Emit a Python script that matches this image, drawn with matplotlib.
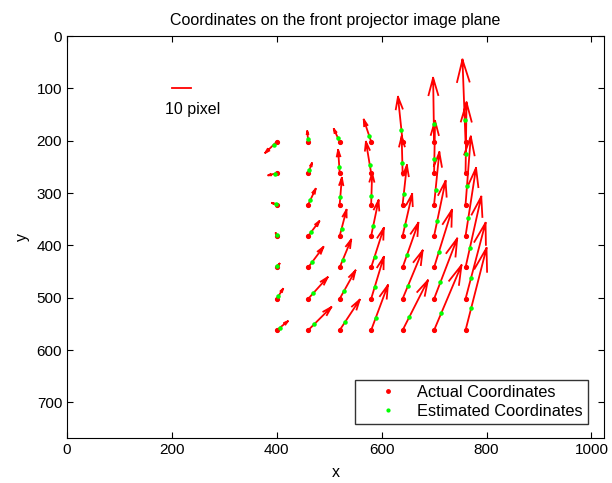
import numpy as np
import matplotlib.pyplot as plt

plt.rcParams['font.family'] = ['Liberation Sans', 'DejaVu Sans']

# grid of actual coordinates on the projector image plane
grid_x = [400, 460, 520, 580, 640, 700, 760]
grid_y = [202, 262, 322, 382, 442, 502, 562]

# estimation error (estimated - actual), pixels; one list per column, top row first
err_x = [
    [-5.9, -4.3, -2.4, -0.5, 1.4, 3.2, 5.7],
    [-0.5, 1.9, 3.8, 5.7, 7.8, 10.0, 11.9],
    [-3.0, -0.8, 1.1, 3.5, 5.9, 8.1, 10.3],
    [-3.8, -2.7, 0.5, 3.8, 6.5, 6.5, 8.6],
    [-2.4, -0.5, 2.2, 4.9, 8.1, 10.3, 13.0],
    [-0.5, 0.5, 2.7, 5.9, 9.2, 11.9, 14.1],
    [-1.6, 0.5, 2.7, 5.4, 8.1, 10.3, 10.8],
]
err_y = [
    [5.7, 1.1, -0.8, -1.4, -1.9, -5.1, -4.6],
    [-5.4, -5.1, -8.1, -7.6, -10.5, -11.1, -11.9],
    [-6.5, -11.9, -13.8, -13.5, -14.3, -14.6, -15.7],
    [-11.4, -16.2, -16.2, -18.4, -20.3, -21.6, -23.2],
    [-23.2, -18.9, -20.3, -21.6, -23.0, -24.9, -25.7],
    [-33.0, -27.0, -27.0, -28.4, -29.7, -31.1, -33.5],
    [-42.4, -36.5, -35.1, -35.1, -36.5, -39.2, -42.4],
]

arrow_scale = 3.7   # drawn length per pixel of error
ref_len = 10        # "10 pixel" reference arrow

X, Y = np.meshgrid(grid_x, grid_y, indexing='ij')
ex = np.array(err_x)
ey = np.array(err_y)
est_x = X + ex
est_y = Y + ey

fig = plt.figure(figsize=(6.12, 4.83), dpi=100)
ax = fig.add_axes([67 / 612, 45 / 483, 537 / 612, 402 / 483])


def arrow_lines(x0, y0, u, v, alpha=0.27, beta=0.28):
    # matlab style open arrow: shaft + two head strokes
    xs, ys = [], []
    for a, b, du, dv in zip(x0, y0, u, v):
        tx, ty = a + du, b + dv
        xs += [a, tx, np.nan]
        ys += [b, ty, np.nan]
        h1x = tx - alpha * (du + beta * dv)
        h1y = ty - alpha * (dv - beta * du)
        h2x = tx - alpha * (du - beta * dv)
        h2y = ty - alpha * (dv + beta * du)
        xs += [h1x, tx, h2x, np.nan]
        ys += [h1y, ty, h2y, np.nan]
    return xs, ys


ax_, ay_ = arrow_lines(X.ravel(), Y.ravel(), ex.ravel() * arrow_scale, ey.ravel() * arrow_scale)
ax.plot(ax_, ay_, color='red', lw=1.3, zorder=2)

ax.plot(X.ravel(), Y.ravel(), '.', color='red', ms=5.5, zorder=3, label='Actual Coordinates')
ax.plot(est_x.ravel(), est_y.ravel(), '.', color='#00ff00', ms=4.5, zorder=4, label='Estimated Coordinates')

# reference arrow
ax.plot([200, 200 + ref_len * arrow_scale], [100, 100], color='red', lw=1.3)
ax.text(186, 141, '10 pixel', fontsize=11.5, va='center', ha='left')

ax.set_xlim(0, 1024)
ax.set_ylim(768, 0)
ax.set_xticks(range(0, 1001, 200))
ax.set_yticks(range(0, 701, 100))
ax.tick_params(direction='in', top=True, right=True, length=4, labelsize=11)
ax.set_title('Coordinates on the front projector image plane', fontsize=11.5, pad=8)
ax.set_xlabel('x', fontsize=11.5, labelpad=6)
ax.set_ylabel('y', fontsize=11.5, labelpad=5)

leg = ax.legend(loc='lower right', bbox_to_anchor=(0.97, 0.035), fontsize=11.8, frameon=True,
                fancybox=False, edgecolor='black', markerscale=0.9, handlelength=3.4,
                handletextpad=0.1, borderpad=0.3, labelspacing=0.25, borderaxespad=0)
leg.get_frame().set_linewidth(1.0)

fig.savefig('out.png', dpi=100)
